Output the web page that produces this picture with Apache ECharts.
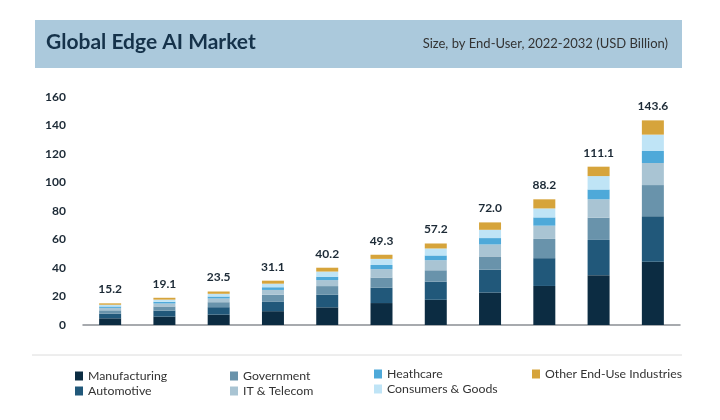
<!DOCTYPE html>
<html>
<head>
<meta charset="utf-8">
<script src="https://cdn.jsdelivr.net/npm/echarts@6/dist/echarts.min.js"></script>
<style>
html, body { margin: 0; padding: 0; background: #fff; }
#chart { width: 720px; height: 420px; }
</style>
</head>
<body>
<div id="chart"></div>
<script>
var years = ['2022', '2023', '2024', '2025', '2026', '2027', '2028', '2029', '2030', '2031', '2032'];
var manufacturing = [4.7, 5.9, 7.3, 9.7, 12.4, 15.4, 17.7, 22.8, 27.4, 35.0, 44.3];
var automotive = [3.3, 4.2, 5.2, 6.8, 8.8, 10.7, 12.7, 16.0, 19.5, 24.7, 32.1];
var government = [2.3, 2.9, 3.5, 4.7, 6.1, 7.2, 8.0, 9.3, 13.5, 15.6, 21.8];
var itTelecom = [1.7, 2.1, 2.6, 3.4, 4.2, 5.9, 7.1, 8.4, 9.3, 12.9, 15.5];
var healthcare = [1.0, 1.2, 1.4, 1.9, 2.4, 2.9, 3.3, 4.5, 5.8, 6.9, 8.4];
var consumers = [1.2, 1.5, 1.9, 2.5, 3.6, 4.3, 4.9, 5.8, 6.3, 9.4, 11.5];
var otherUse = [1.0, 1.3, 1.6, 2.1, 2.7, 2.9, 3.5, 5.2, 6.4, 6.6, 10.0];
var totals = [15.2, 19.1, 23.5, 31.1, 40.2, 49.3, 57.2, 72.0, 88.2, 111.1, 143.6];

var names = ['Manufacturing', 'Automotive', 'Government', 'IT & Telecom', 'Heathcare', 'Consumers & Goods', 'Other End-Use Industries'];
var colors = ['#0c2c42', '#21587a', '#6993ab', '#a9c4d3', '#4ea9d9', '#bfe4f6', '#d6a43b'];
var values = [manufacturing, automotive, government, itTelecom, healthcare, consumers, otherUse];

var myChart = echarts.init(document.getElementById('chart'));

var series = names.map(function (n, i) {
    var s = {
        name: n,
        type: 'bar',
        stack: 'total',
        barWidth: 22,
        data: values[i],
        itemStyle: { color: colors[i] }
    };
    if (i === names.length - 1) {
        s.label = {
            show: true,
            position: 'top',
            distance: 8,
            color: '#1c2a36',
            fontSize: 12,
            fontWeight: 'bold',
            fontFamily: 'Lato',
            formatter: function (p) {
                return totals[p.dataIndex].toFixed(1);
            }
        };
    }
    return s;
});

var legendStyle = {
    orient: 'vertical',
    itemWidth: 8,
    itemHeight: 9,
    itemGap: 3,
    icon: 'rect',
    textStyle: { color: '#333', fontSize: 12.3, fontFamily: 'Lato' }
};

option = {
    backgroundColor: '#fff',
    animation: false,
    textStyle: { fontFamily: 'Lato' },
    graphic: [
        { type: 'rect', shape: { x: 35, y: 20, width: 647, height: 48 }, style: { fill: '#abc9dc' } },
        { type: 'text', left: 46, top: 32, style: { text: 'Global Edge AI Market', fill: '#15324a', font: 'bold 21px Lato' } },
        { type: 'text', right: 52, top: 37, style: { text: 'Size, by End-User, 2022-2032 (USD Billion)', fill: '#333', font: '13px Lato' } },
        { type: 'line', shape: { x1: 32, y1: 355, x2: 682, y2: 355 }, style: { stroke: '#dcdcdc', lineWidth: 1 } }
    ],
    legend: [
        Object.assign({ left: 70, top: 365, data: ['Manufacturing', 'Automotive'] }, legendStyle),
        Object.assign({ left: 225, top: 365, data: ['Government', 'IT & Telecom'] }, legendStyle),
        Object.assign({ left: 369, top: 363, data: ['Heathcare', 'Consumers & Goods'] }, legendStyle),
        Object.assign({ left: 527, top: 363, data: ['Other End-Use Industries'] }, legendStyle)
    ],
    grid: { left: 83, right: 40, top: 97, bottom: 95 },
    xAxis: {
        type: 'category',
        data: years,
        axisLine: { lineStyle: { color: '#8a8f94', width: 1.5 } },
        axisTick: { show: false },
        axisLabel: { show: false }
    },
    yAxis: {
        type: 'value',
        min: 0,
        max: 160,
        interval: 20,
        splitLine: { show: false },
        axisLine: { show: false },
        axisTick: { show: false },
        axisLabel: { color: '#1c2a36', fontSize: 12, fontWeight: 'bold', margin: 17 }
    },
    series: series
};
myChart.setOption(option);
</script>
</body>
</html>
